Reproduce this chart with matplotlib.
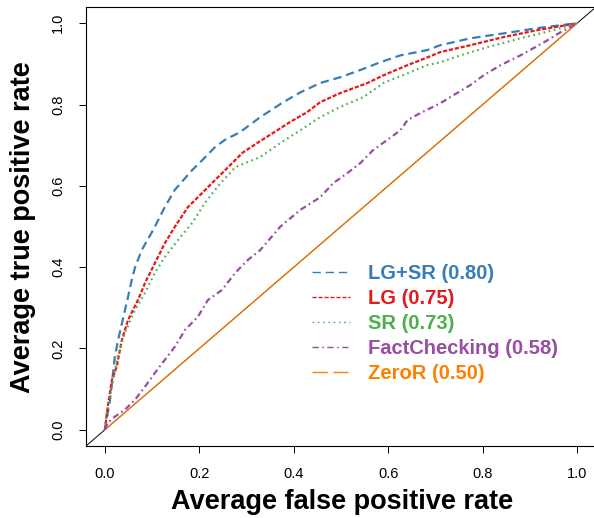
import matplotlib
matplotlib.use("Agg")
import matplotlib.pyplot as plt
from matplotlib.lines import Line2D

plt.rcParams["font.family"] = ["Liberation Sans", "DejaVu Sans"]
plt.rcParams["lines.scale_dashes"] = False

# ROC curves
lgsr_fpr = [0, 0.011, 0.021, 0.028, 0.049, 0.057, 0.064, 0.078, 0.102, 0.127, 0.148, 0.185,
            0.206, 0.233, 0.254, 0.286, 0.329, 0.378, 0.414, 0.456, 0.498, 0.541, 0.583,
            0.626, 0.683, 0.710, 0.774, 0.844, 0.916, 1.0]
lgsr_tpr = [0, 0.074, 0.179, 0.221, 0.327, 0.369, 0.400, 0.442, 0.491, 0.548, 0.590, 0.639,
            0.663, 0.695, 0.713, 0.732, 0.769, 0.806, 0.830, 0.853, 0.867, 0.885, 0.904,
            0.921, 0.934, 0.946, 0.963, 0.975, 0.988, 1.0]

lg_fpr = [0, 0.006, 0.015, 0.025, 0.036, 0.049, 0.070, 0.085, 0.106, 0.127, 0.148, 0.176,
          0.197, 0.227, 0.261, 0.291, 0.322, 0.356, 0.392, 0.428, 0.456, 0.498, 0.556,
          0.590, 0.641, 0.683, 0.710, 0.774, 0.844, 0.916, 1.0]
lg_tpr = [0, 0.057, 0.123, 0.155, 0.221, 0.270, 0.319, 0.361, 0.410, 0.459, 0.499, 0.548,
          0.572, 0.607, 0.646, 0.681, 0.705, 0.730, 0.757, 0.781, 0.806, 0.828, 0.853,
          0.872, 0.897, 0.916, 0.929, 0.946, 0.966, 0.983, 1.0]

sr_fpr = [0, 0.004, 0.015, 0.025, 0.042, 0.064, 0.085, 0.106, 0.127, 0.155, 0.185, 0.212,
          0.240, 0.276, 0.312, 0.329, 0.371, 0.414, 0.456, 0.498, 0.547, 0.590, 0.641,
          0.683, 0.710, 0.753, 0.810, 0.880, 0.950, 1.0]
sr_tpr = [0, 0.042, 0.106, 0.172, 0.238, 0.295, 0.337, 0.386, 0.425, 0.467, 0.509, 0.558,
          0.600, 0.646, 0.663, 0.671, 0.705, 0.737, 0.769, 0.794, 0.818, 0.853, 0.877,
          0.897, 0.904, 0.921, 0.941, 0.963, 0.983, 1.0]

fc_fpr = [0, 0.006, 0.021, 0.042, 0.064, 0.085, 0.106, 0.127, 0.148, 0.170, 0.197, 0.218,
          0.248, 0.276, 0.303, 0.329, 0.371, 0.414, 0.456, 0.484, 0.513, 0.541, 0.568,
          0.598, 0.626, 0.641, 0.668, 0.710, 0.738, 0.774, 0.802, 0.838, 0.880, 0.908,
          0.937, 0.965, 0.992, 1.0]
fc_tpr = [0, 0.017, 0.032, 0.049, 0.074, 0.106, 0.140, 0.172, 0.204, 0.246, 0.278, 0.319,
          0.344, 0.386, 0.418, 0.442, 0.499, 0.541, 0.572, 0.607, 0.631, 0.656, 0.688,
          0.713, 0.737, 0.762, 0.779, 0.803, 0.823, 0.848, 0.872, 0.897, 0.921, 0.939,
          0.958, 0.978, 0.995, 1.0]

zeror_fpr = [0, 1]
zeror_tpr = [0, 1]

labels = ["LG+SR (0.80)", "LG (0.75)", "SR (0.73)", "FactChecking (0.58)", "ZeroR (0.50)"]
colors = ["#377EB8", "#E41A1C", "#4DAF4A", "#984EA3", "#FF7F00"]
dashes = [(6, 3.5), (3, 1.3), (1.2, 2.6), (4.5, 2.5, 1.2, 2.5), (None, None)]
legend_dashes = [(6, 3.5), (3, 1.3), (1.2, 2.6), (4.5, 2.5, 1.2, 2.5), (11, 4)]

W, H = 594, 518
fig = plt.figure(figsize=(W / 100, H / 100), dpi=100)
# right edge of the box runs just past the picture, as in the original
ax = fig.add_axes([86 / W, (H - 446) / H, 510 / W, 439 / H])

curves = [(lgsr_fpr, lgsr_tpr), (lg_fpr, lg_tpr), (sr_fpr, sr_tpr), (fc_fpr, fc_tpr)]
ax.axline((0, 0), (1, 1), color="black", lw=0.7)
ax.plot(zeror_fpr, zeror_tpr, color=colors[4], lw=0.9)
for (x, y), c, d in zip(curves, colors, dashes):
    ax.plot(x, y, color=c, lw=1.6, dashes=d)

ax.set_xlim(-0.04, 1.04)
ax.set_ylim(-0.04, 1.04)
ticks = [0.0, 0.2, 0.4, 0.6, 0.8, 1.0]
ax.set_xticks(ticks)
ax.set_yticks(ticks)
ax.set_xticklabels([f"{t:.1f}" for t in ticks])
ax.set_yticklabels([f"{t:.1f}" for t in ticks], rotation=90, va="center")
ax.tick_params(direction="out", length=5, width=0.7, labelsize=10.5, pad=10)
for s in ax.spines.values():
    s.set_linewidth(0.8)

ax.set_xlabel("Average false positive rate", fontsize=19.5, fontweight="bold")
ax.set_ylabel("Average true positive rate", fontsize=19.5, fontweight="bold")
ax.xaxis.set_label_coords(342 / W, 1 - 502 / H, transform=fig.transFigure)
ax.yaxis.set_label_coords(23 / W, 1 - 227 / H, transform=fig.transFigure)
ax.xaxis.label.set_va("center")
ax.yaxis.label.set_va("center")

handles = [Line2D([], [], color=c, lw=1.0, dashes=d) for c, d in zip(colors, legend_dashes)]
leg = ax.legend(handles, labels, loc="upper left", frameon=False,
                bbox_to_anchor=(312 / W, 1 - 264 / H), bbox_transform=fig.transFigure,
                prop={"size": 14.5, "weight": "bold"}, labelcolor=colors,
                borderpad=0, borderaxespad=0, handlelength=1.9, handletextpad=0.9,
                labelspacing=0.3)

fig.savefig("out.png", dpi=100)
